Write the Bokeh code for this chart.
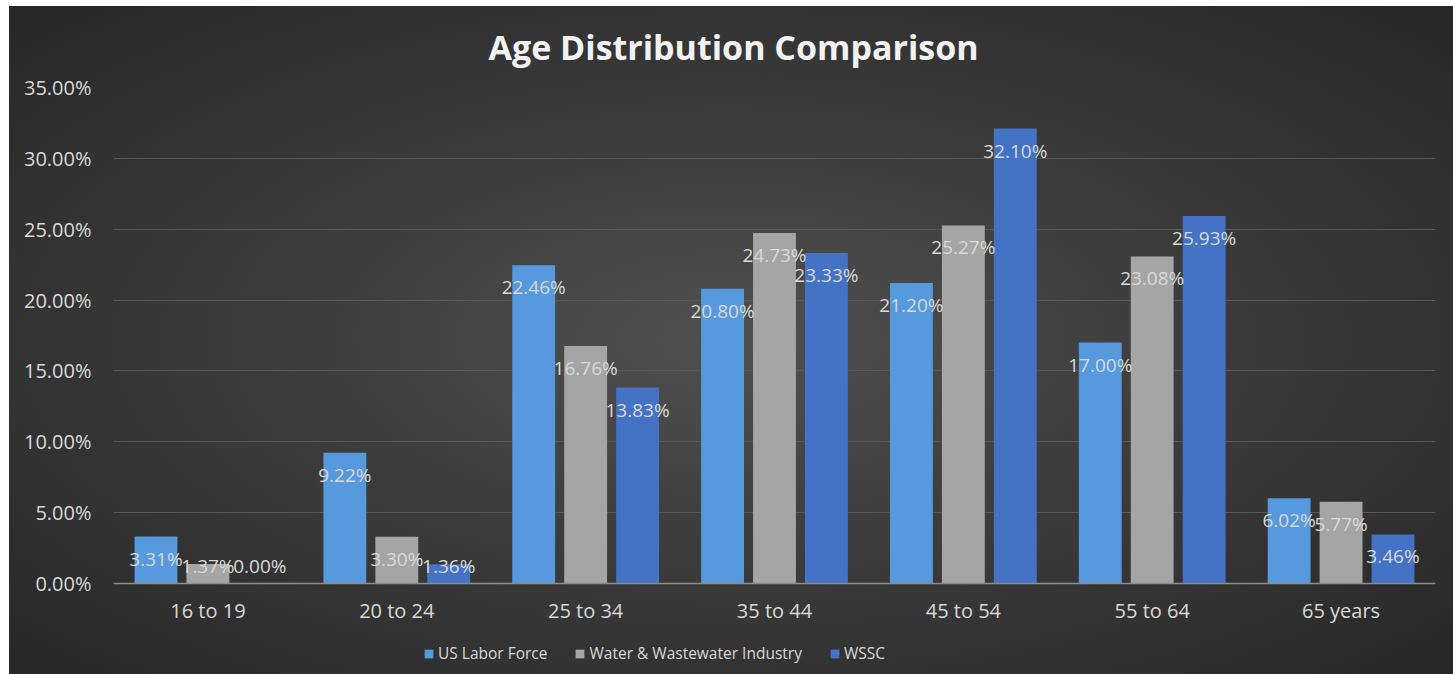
from bokeh.plotting import figure
from bokeh.models import (ColumnDataSource, FactorRange, Range1d, Legend, LegendItem,
                          PrintfTickFormatter, FixedTicker, Span)
from bokeh.transform import dodge
from bokeh.embed import file_html
from bokeh.resources import INLINE
from bokeh.core.properties import value

categories = ["16 to 19", "20 to 24", "25 to 34", "35 to 44", "45 to 54", "55 to 64", "65 years"]
us_labor_force = [3.31, 9.22, 22.46, 20.80, 21.20, 17.00, 6.02]
water_industry = [1.37, 3.30, 16.76, 24.73, 25.27, 23.08, 5.77]
wssc = [0.00, 1.36, 13.83, 23.33, 32.10, 25.93, 3.46]
series_names = ["US Labor Force", "Water & Wastewater Industry", "WSSC"]
series_colors = ["#5699dc", "#a5a5a5", "#4472c4"]
y_ticks = [0, 5, 10, 15, 20, 25, 30, 35]
title_text = "Age Distribution Comparison"

FONT = "Open Sans"
LABEL_MIN = 2.82  # keeps tiny-bar labels above the axis, as in the original

# frame reaches the bottom of the chart so that the legend can sit inside it
p = figure(x_range=FactorRange(*categories, range_padding=0), y_range=Range1d(-6.42, 35),
           frame_width=1322, frame_height=587, output_backend="svg", toolbar_location=None,
           x_axis_location=None,
           min_border_left=104, min_border_right=18, min_border_top=81, min_border_bottom=0)
p.styles = {"margin-left": "9px", "margin-top": "6px",
            "background": "radial-gradient(ellipse at 50% 50%, #505050 0%, #3c3c3c 45%, #272727 100%)"}
p.background_fill_alpha = 0
p.border_fill_alpha = 0
p.outline_line_color = None

p.title.text = title_text
p.title.align = "left"
p.title.offset = 375
p.title.vertical_align = "top"
p.title.text_font = FONT
p.title.text_font_style = "bold"
p.title.text_font_size = "34px"
p.title.text_color = "#f2f2f2"
p.title.standoff = 32

src = ColumnDataSource(dict(cat=categories, us=us_labor_force, water=water_industry, wssc=wssc,
                            zero=[0] * len(categories),
                            us_lab=["%.2f%%" % v for v in us_labor_force],
                            water_lab=["%.2f%%" % v for v in water_industry],
                            wssc_lab=["%.2f%%" % v for v in wssc],
                            us_y=[max(v, LABEL_MIN) for v in us_labor_force],
                            water_y=[max(v, LABEL_MIN) for v in water_industry],
                            wssc_y=[max(v, LABEL_MIN) for v in wssc]))

# y axis and gridlines
p.yaxis.ticker = FixedTicker(ticks=y_ticks)
p.yaxis.formatter = PrintfTickFormatter(format="%.2f%%")
p.yaxis.axis_line_color = None
p.yaxis.major_tick_line_color = None
p.yaxis.minor_tick_line_color = None
p.yaxis.major_tick_out = 0
p.yaxis.major_tick_in = 0
p.yaxis.minor_tick_out = 0
p.yaxis.minor_tick_in = 0
p.yaxis.major_label_standoff = 22
p.yaxis.major_label_text_font = FONT
p.yaxis.major_label_text_font_size = "20px"
p.yaxis.major_label_text_color = "#d9d9d9"

p.xgrid.grid_line_color = None
p.ygrid.grid_line_color = "#585858"
p.ygrid.grid_line_width = 1

# category axis line at zero
p.add_layout(Span(location=0, dimension="width", line_color="#8c8c8c", line_width=1.5))

offsets = [-0.275, 0.0, 0.275]
keys = ["us", "water", "wssc"]
renderers = []
for key, off, col in zip(keys, offsets, series_colors):
    r = p.vbar(x=dodge("cat", off, range=p.x_range), top=key, width=0.227, source=src,
               fill_color=col, line_color=None)
    renderers.append(r)
for key, off in zip(keys, offsets):
    p.text(x=dodge("cat", off, range=p.x_range), y=key + "_y", text=key + "_lab", source=src,
           text_font=value(FONT), text_font_size="19px", text_color="#d9d9d9",
           text_align="center", text_baseline="middle", y_offset=22)

# category labels under the zero line
p.text(x="cat", y="zero", text="cat", source=src, text_font=value(FONT),
       text_font_size="20px", text_color="#d9d9d9", text_align="center",
       text_baseline="middle", y_offset=27)

legend = Legend(items=[LegendItem(label=n, renderers=[r]) for n, r in zip(series_names, renderers)],
                orientation="horizontal", location=(310, 10), spacing=27,
                glyph_width=11, glyph_height=11, label_standoff=4,
                label_text_font=FONT, label_text_font_size="15.5px", label_text_color="#d9d9d9",
                background_fill_alpha=0, border_line_color=None, padding=2, margin=0)
p.add_layout(legend, "center")

open("out.html", "w").write(file_html(p, INLINE))
